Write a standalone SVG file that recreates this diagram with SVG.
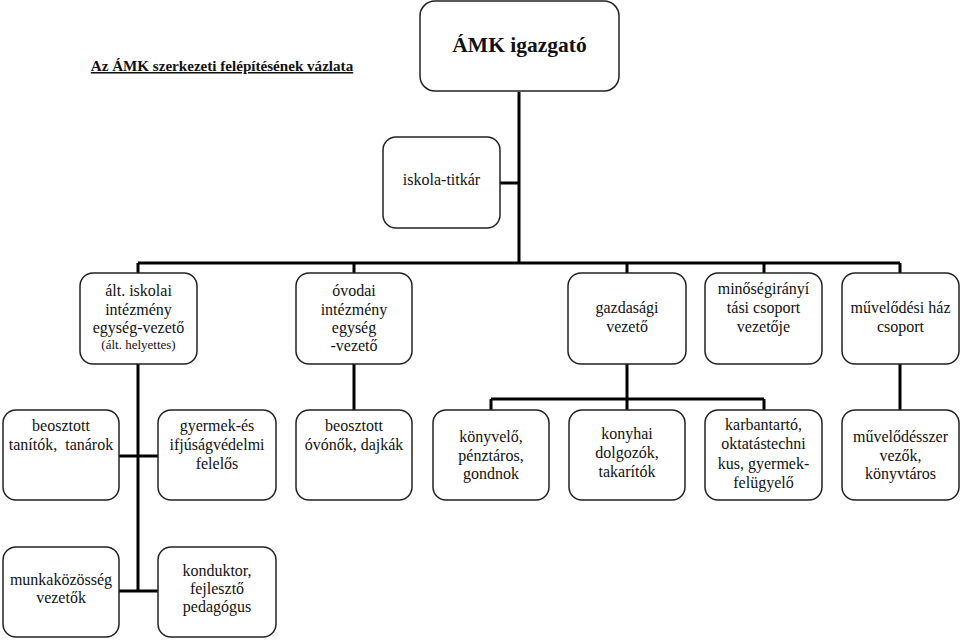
<svg xmlns="http://www.w3.org/2000/svg" width="960" height="640" viewBox="0 0 960 640">
<style>
.box{fill:#fff;stroke:#222;stroke-width:1.5}
.t{font-family:"Liberation Serif","Times New Roman",serif;font-size:16px;fill:#111;text-anchor:middle}
.con{fill:none;stroke:#000;stroke-width:3}
</style>
<rect width="960" height="640" fill="#fff"/>
<text id="title" class="t" x="222" y="71" style="font-size:15.1px;font-weight:bold;text-decoration:underline">Az ÁMK szerkezeti felépítésének vázlata</text>
<g id="connectors">
<path class="con" d="M519 92V263M500 183H519M138 263H900M138 263V273M354 263V273M627 263V273M764 263V273M900 263V273"/>
<path class="con" d="M138 364V591M119 456H158M119 591H158"/>
<path class="con" d="M354 364V410M900 364V410"/>
<path class="con" d="M627 364V410M491 399H764M491 399V410M764 399V410"/>
</g>
<g id="igazgato"><rect class="box" x="420" y="1" width="199" height="90" rx="15"/><text class="t" x="519.5" y="52" style="font-size:21.5px;font-weight:bold">ÁMK igazgató</text></g>
<g id="titkar"><rect class="box" x="383" y="137" width="117" height="91" rx="13"/><text class="t" x="441.5" y="185">iskola-titkár</text></g>
<g id="alt-iskolai"><rect class="box" x="80" y="273" width="117" height="91" rx="13"/><text class="t"><tspan x="138.5" y="296">ált. iskolai</tspan><tspan x="138.5" y="315">intézmény</tspan><tspan x="138.5" y="333">egység-vezető</tspan><tspan x="138.5" y="349" style="font-size:13px">(ált. helyettes)</tspan></text></g>
<g id="ovodai"><rect class="box" x="296" y="273" width="116" height="91" rx="13"/><text class="t"><tspan x="354" y="296">óvodai</tspan><tspan x="354" y="315">intézmény</tspan><tspan x="354" y="333">egység</tspan><tspan x="354" y="351">-vezető</tspan></text></g>
<g id="gazdasagi"><rect class="box" x="568" y="273" width="118" height="91" rx="13"/><text class="t"><tspan x="627" y="313">gazdasági</tspan><tspan x="627" y="332">vezető</tspan></text></g>
<g id="minoseg"><rect class="box" x="705" y="273" width="117" height="91" rx="13"/><text class="t"><tspan x="763.5" y="294">minőségirányí</tspan><tspan x="763.5" y="313">tási csoport</tspan><tspan x="763.5" y="332">vezetője</tspan></text></g>
<g id="muvhaz"><rect class="box" x="842" y="273" width="117" height="91" rx="13"/><text class="t"><tspan x="900.5" y="313">művelődési ház</tspan><tspan x="900.5" y="332">csoport</tspan></text></g>
<g id="tanitok"><rect class="box" x="3" y="410" width="116" height="90" rx="13"/><text class="t"><tspan x="61" y="431">beosztott</tspan><tspan x="61" y="450" xml:space="preserve">tanítók,  tanárok</tspan></text></g>
<g id="gyermekved"><rect class="box" x="158" y="410" width="118" height="90" rx="13"/><text class="t"><tspan x="217" y="431">gyermek-és</tspan><tspan x="217" y="450">ifjúságvédelmi</tspan><tspan x="217" y="469">felelős</tspan></text></g>
<g id="ovonok"><rect class="box" x="296" y="410" width="116" height="90" rx="13"/><text class="t"><tspan x="354" y="431">beosztott</tspan><tspan x="354" y="450">óvónők, dajkák</tspan></text></g>
<g id="konyvelo"><rect class="box" x="433" y="410" width="116" height="90" rx="13"/><text class="t"><tspan x="491" y="442">könyvelő,</tspan><tspan x="491" y="461">pénztáros,</tspan><tspan x="491" y="479">gondnok</tspan></text></g>
<g id="konyhai"><rect class="box" x="569" y="410" width="116" height="90" rx="13"/><text class="t"><tspan x="627" y="439">konyhai</tspan><tspan x="627" y="458">dolgozók,</tspan><tspan x="627" y="477">takarítók</tspan></text></g>
<g id="karbantarto"><rect class="box" x="705" y="410" width="117" height="90" rx="13"/><text class="t"><tspan x="763.5" y="430">karbantartó,</tspan><tspan x="763.5" y="449">oktatástechni</tspan><tspan x="763.5" y="469">kus, gyermek-</tspan><tspan x="763.5" y="488">felügyelő</tspan></text></g>
<g id="muvszervezok"><rect class="box" x="842" y="410" width="117" height="90" rx="13"/><text class="t"><tspan x="900.5" y="442">művelődésszer</tspan><tspan x="900.5" y="461">vezők,</tspan><tspan x="900.5" y="479">könyvtáros</tspan></text></g>
<g id="munkakozosseg"><rect class="box" x="3" y="547" width="116" height="90" rx="13"/><text class="t"><tspan x="61" y="585">munkaközösség</tspan><tspan x="61" y="603">vezetők</tspan></text></g>
<g id="konduktor"><rect class="box" x="158" y="547" width="118" height="90" rx="13"/><text class="t"><tspan x="217" y="576">konduktor,</tspan><tspan x="217" y="594">fejlesztő</tspan><tspan x="217" y="612">pedagógus</tspan></text></g>
</svg>
